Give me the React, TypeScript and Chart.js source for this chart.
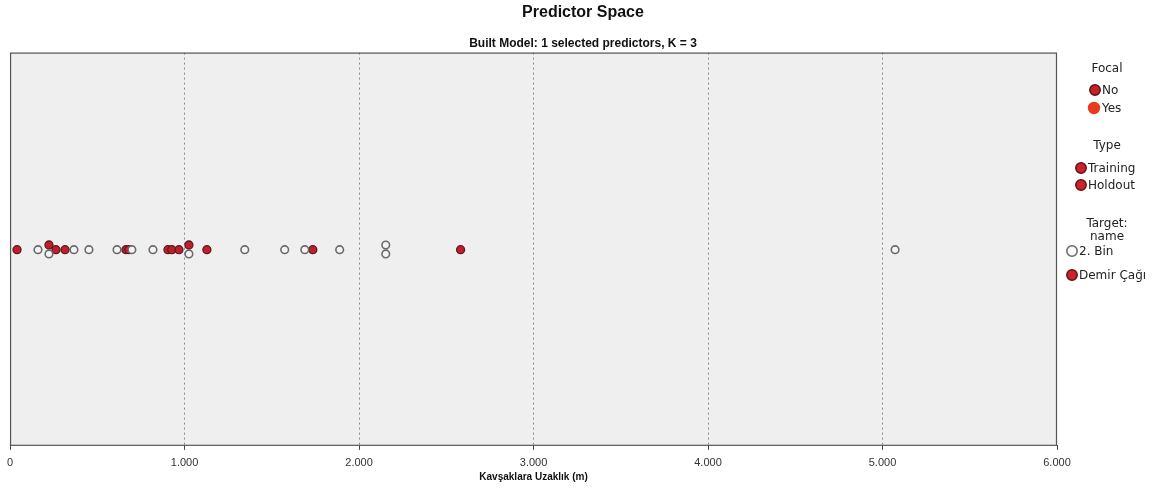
import React, { useEffect, useRef } from "react";
import { Chart, registerables } from "chart.js";

Chart.register(...registerables);

// Distance values (m)
const binX = [160, 223, 366, 452, 613, 698, 819, 1025, 1345, 1574, 1689, 1889, 2153, 2153, 5072];
const binY = [0, -0.022, 0, 0, 0, 0, 0, -0.022, 0, 0, 0, 0, 0.024, -0.022, 0];
const demirX = [40, 223, 263, 315, 664, 681, 905, 927, 968, 1025, 1128, 1735, 2582];
const demirY = [0, 0.024, 0, 0, 0, 0, 0, 0, 0, 0.024, 0, 0, 0];
const xTickLabels = ["0", "1.000", "2.000", "3.000", "4.000", "5.000", "6.000"];

const FONT = "'Liberation Sans', Arial, sans-serif";
const LEGEND_FONT = "'DejaVu Sans', Verdana, sans-serif";

const framePlugin = {
  id: "frame",
  beforeDraw(chart: any) {
    const { ctx, chartArea: a } = chart;
    ctx.save();
    ctx.fillStyle = "#efefef";
    ctx.fillRect(a.left, a.top, a.right - a.left, a.bottom - a.top);
    ctx.restore();
  },
  afterDatasetsDraw(chart: any) {
    const { ctx, chartArea: a } = chart;
    ctx.save();
    ctx.strokeStyle = "#555";
    ctx.lineWidth = 1.2;
    ctx.strokeRect(a.left + 0.5, a.top + 0.5, a.right - a.left - 1, a.bottom - a.top);
    ctx.restore();
  },
};

const legendPlugin = {
  id: "sideLegend",
  afterDraw(chart: any) {
    const ctx = chart.ctx;
    ctx.save();
    ctx.font = `12px ${LEGEND_FONT}`;
    ctx.fillStyle = "#222";
    ctx.textBaseline = "middle";
    const center = (t: string, x: number, y: number) => {
      ctx.textAlign = "center";
      ctx.fillText(t, x, y);
    };
    const left = (t: string, x: number, y: number) => {
      ctx.textAlign = "left";
      ctx.fillText(t, x, y);
    };
    const dot = (x: number, y: number, r: number, fill: string, stroke: string | null) => {
      ctx.beginPath();
      ctx.arc(x, y, r, 0, Math.PI * 2);
      ctx.fillStyle = fill;
      ctx.fill();
      if (stroke) {
        ctx.lineWidth = 1.5;
        ctx.strokeStyle = stroke;
        ctx.stroke();
      }
      ctx.fillStyle = "#222";
    };
    center("Focal", 1107, 69);
    dot(1095, 90, 5.2, "#c8202a", "#5a1414");
    left("No", 1102, 91);
    dot(1094, 108, 6.2, "#ea3a1e", null);
    left("Yes", 1102, 109);
    center("Type", 1107, 146);
    dot(1081, 168, 5.2, "#d0202a", "#5a1414");
    left("Training", 1088, 169);
    dot(1081, 185, 5.2, "#d0202a", "#5a1414");
    left("Holdout", 1088, 186);
    center("Target:", 1107, 224);
    center("name", 1107, 237);
    dot(1072, 251, 5.2, "#fafafa", "#666");
    left("2. Bin", 1079, 252);
    dot(1072, 275, 5.2, "#d0202a", "#5a1414");
    left("Demir Çağı", 1079, 276);
    ctx.restore();
  },
};

export default function App() {
  const ref = useRef<HTMLCanvasElement>(null);
  useEffect(() => {
    if (!ref.current) return;
    const chart = new Chart(ref.current, {
      type: "scatter",
      data: {
        datasets: [
          {
            label: "2. Bin",
            data: binX.map((x, i) => ({ x, y: binY[i] })),
            backgroundColor: "#f4f4f4",
            borderColor: "#6a6a6a",
            borderWidth: 1.6,
            pointRadius: 3.8,
          },
          {
            label: "Demir Çağı",
            data: demirX.map((x, i) => ({ x, y: demirY[i] })),
            backgroundColor: "#c01e2c",
            borderColor: "#5a1a1e",
            borderWidth: 1.3,
            pointRadius: 4,
          },
        ],
      },
      options: {
        animation: false,
        responsive: true,
        maintainAspectRatio: false,
        layout: { padding: { left: 8, right: 0, top: 0, bottom: 8 } },
        plugins: {
          legend: { display: false },
          tooltip: { enabled: false },
          title: {
            display: true,
            text: "Predictor Space",
            color: "#111",
            font: { family: FONT, size: 16, weight: "bold" },
            padding: { top: 3, bottom: 12 },
          },
          subtitle: {
            display: true,
            text: "Built Model: 1 selected predictors, K = 3",
            color: "#111",
            font: { family: FONT, size: 12, weight: "bold" },
            padding: { top: 2, bottom: 2 },
          },
        },
        scales: {
          x: {
            type: "linear",
            min: 0,
            max: 6000,
            ticks: {
              stepSize: 1000,
              color: "#333",
              font: { family: FONT, size: 11 },
              padding: 7,
              maxRotation: 0,
              callback: (_v: any, i: number) => xTickLabels[i],
            },
            grid: {
              color: (c: any) =>
                c.index === 0 || c.index === xTickLabels.length - 1 ? "rgba(0,0,0,0)" : "#8a8a8a",
              lineWidth: 1,
              drawTicks: true,
              tickLength: 5,
              tickColor: "#444",
              tickBorderDash: [],
            },
            border: { display: false, dash: [2, 3] },
            title: {
              display: true,
              text: "Kavşaklara Uzaklık (m)",
              color: "#111",
              font: { family: FONT, size: 10, weight: "bold" },
              padding: { top: -6, bottom: 0 },
            },
          },
          y: {
            type: "linear",
            position: "right",
            min: -1,
            max: 1.01,
            ticks: { display: false },
            grid: { display: false },
            border: { display: false },
            afterFit: (s: any) => {
              s.width = 101;
            },
          },
        },
      },
      plugins: [framePlugin, legendPlugin],
    } as any);
    return () => chart.destroy();
  }, []);
  return (
    <div style={{ position: "fixed", left: 0, top: 0, width: 1158, height: 491, background: "#fff" }}>
      <canvas ref={ref} />
    </div>
  );
}
